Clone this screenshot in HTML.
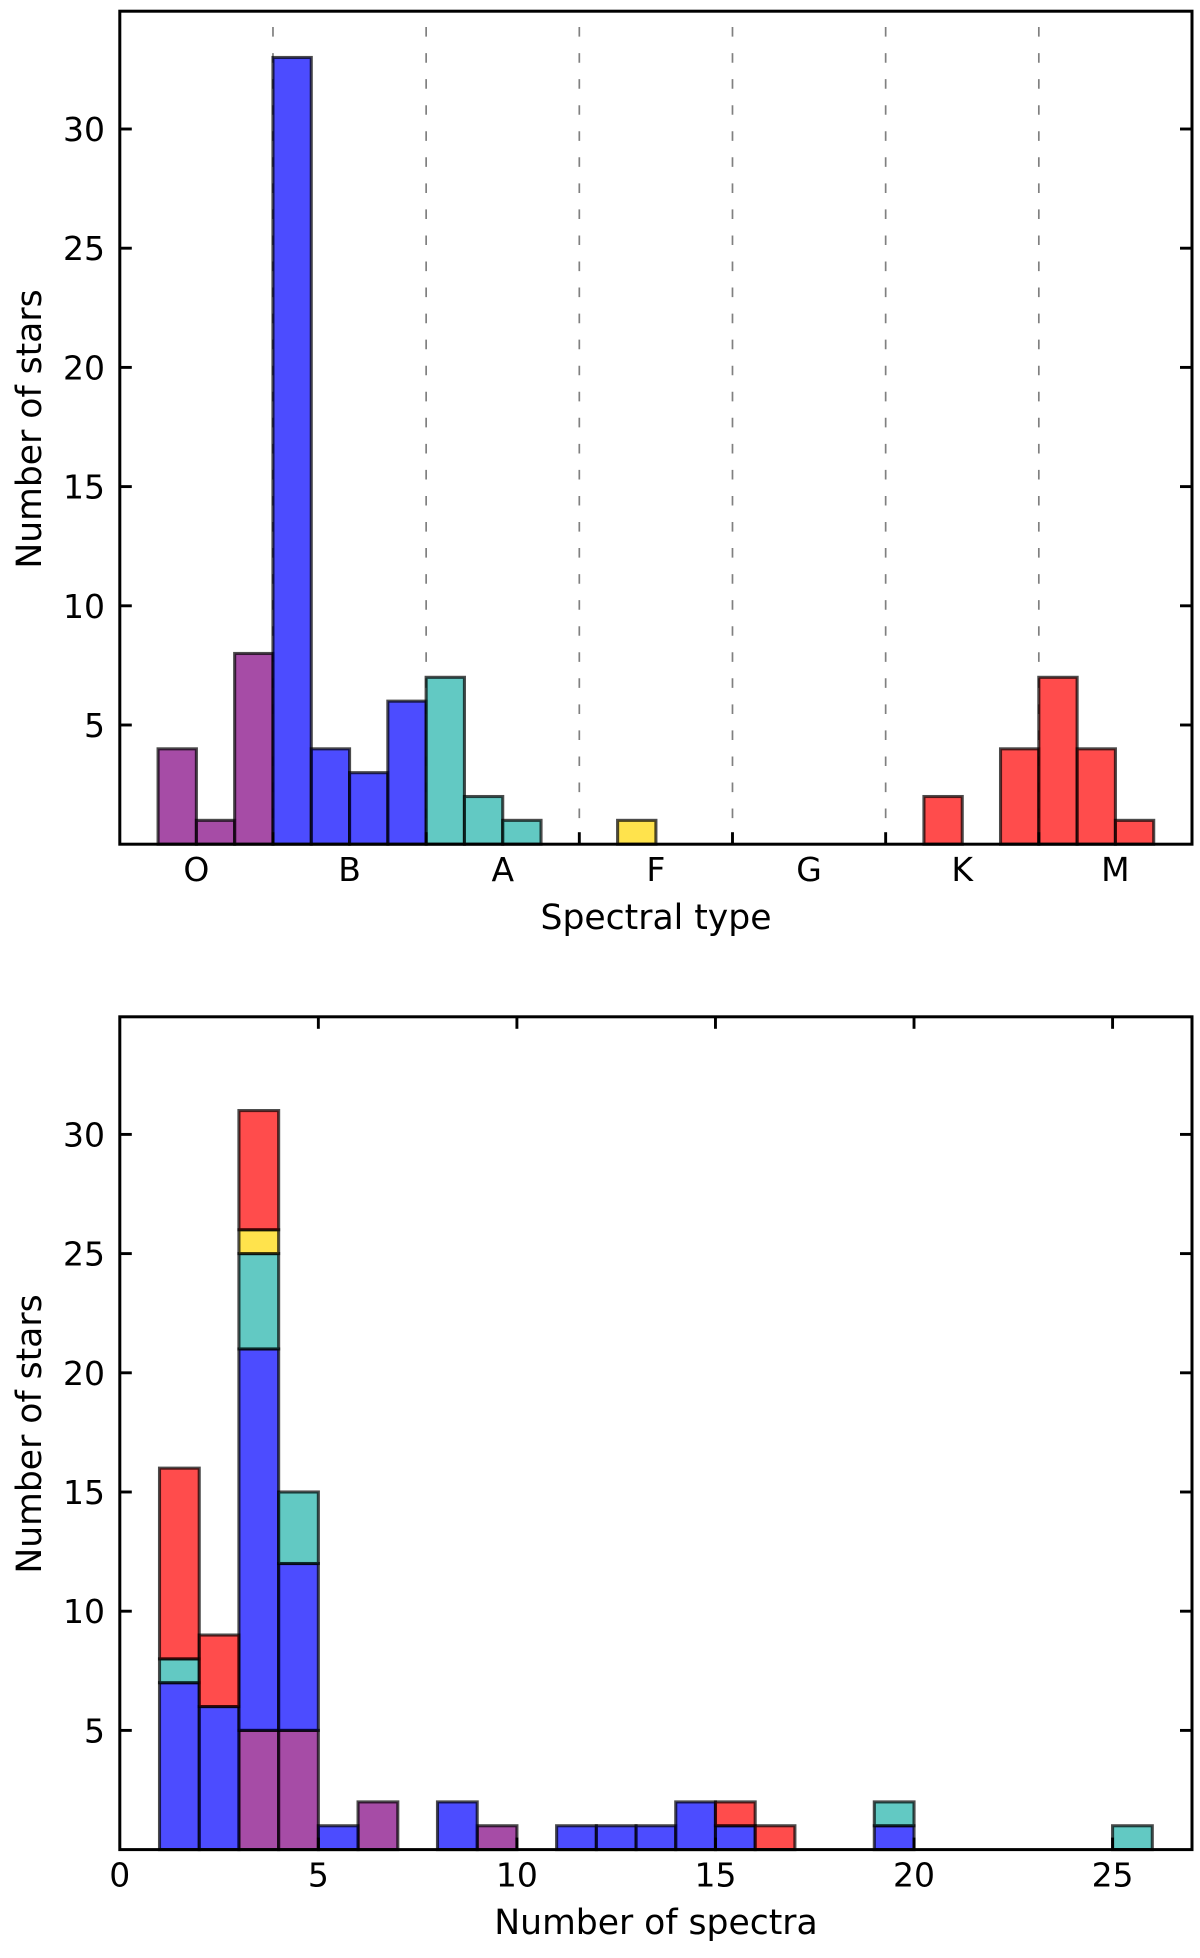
<!DOCTYPE html>
<html>
<head>
<meta charset="utf-8">
<title>Stellar sample histograms</title>
<style>
html,body{margin:0;padding:0;background:#fff;}
svg{display:block;filter:blur(0.35px);}
text{font-family:"DejaVu Sans","Liberation Sans",sans-serif;fill:#000;}
</style>
</head>
<body>
<svg id="fig" xmlns="http://www.w3.org/2000/svg" width="1200" height="1958" viewBox="0 0 1200 1958"></svg>
<script>
// ---- Top panel data: number of stars per spectral subtype bin ----
const spectralLabels = ['O','B','A','F','G','K','M'];
const spectralBoundaries = [4,8,12,16,20,24];
const topO = [0,4,1,8,0,0,0,0,0,0,0,0,0,0,0,0,0,0,0,0,0,0,0,0,0,0,0,0];
const topB = [0,0,0,0,33,4,3,6,0,0,0,0,0,0,0,0,0,0,0,0,0,0,0,0,0,0,0,0];
const topA = [0,0,0,0,0,0,0,0,7,2,1,0,0,0,0,0,0,0,0,0,0,0,0,0,0,0,0,0];
const topF = [0,0,0,0,0,0,0,0,0,0,0,0,0,1,0,0,0,0,0,0,0,0,0,0,0,0,0,0];
const topM = [0,0,0,0,0,0,0,0,0,0,0,0,0,0,0,0,0,0,0,0,0,2,0,4,7,4,1,0];

// ---- Bottom panel data: number of stars per number-of-spectra bin (stacked) ----
const spectraPurple = [0,0,0,5,5,0,2,0,0,1,0,0,0,0,0,0,0,0,0,0,0,0,0,0,0,0,0];
const spectraBlue   = [0,7,6,16,7,1,0,0,2,0,0,1,1,1,2,1,0,0,0,1,0,0,0,0,0,0,0];
const spectraTeal   = [0,1,0,4,3,0,0,0,0,0,0,0,0,0,0,0,0,0,0,1,0,0,0,0,0,1,0];
const spectraYellow = [0,0,0,1,0,0,0,0,0,0,0,0,0,0,0,0,0,0,0,0,0,0,0,0,0,0,0];
const spectraRed    = [0,8,3,5,0,0,0,0,0,0,0,0,0,0,0,1,1,0,0,0,0,0,0,0,0,0,0];

const yTickValues = [5,10,15,20,25,30];
const xTickValues = [0,5,10,15,20,25];
const vlineTopValue = 34.3;

const NS = 'http://www.w3.org/2000/svg';
const fig = document.getElementById('fig');
const LEFT = 119.8, RIGHT = 1192, UNIT = 23.84, TICK = 12;
const TOP_A = 11.2, BASE_A = 844.2, TOP_B = 1016.8, BASE_B = 1849.6;
const BIN_A = 28, BIN_B = 27;
const TICK_FONT = 33, LABEL_FONT = 34.6;
const PURPLE = 'rgb(128,0,128)', BLUE = 'rgb(0,0,255)', TEAL = 'rgb(32,178,170)', GOLD = 'rgb(255,215,0)', RED = 'rgb(255,0,0)';

function xA(v){ return LEFT + v * (RIGHT - LEFT) / BIN_A; }
function xB(v){ return LEFT + v * (RIGHT - LEFT) / BIN_B; }
function yA(v){ return BASE_A - v * UNIT; }
function yB(v){ return BASE_B - v * UNIT; }

function node(tag, attrs){
  const el = document.createElementNS(NS, tag);
  for (const k in attrs) el.setAttribute(k, attrs[k]);
  fig.appendChild(el);
  return el;
}
function bar(x0, x1, y0, y1, color, name){
  const el = node('rect', {x:x0, y:y1, width:x1-x0, height:y0-y1, fill:color, 'fill-opacity':0.7, stroke:'#000', 'stroke-opacity':0.7, 'stroke-width':3.1});
  
  
}
function line(x1, y1, x2, y2, name, extra){
  const el = node('line', Object.assign({x1:x1, y1:y1, x2:x2, y2:y2, stroke:'#000', 'stroke-width':2.9}, extra || {}));
  
  
}
function label(x, y, str, size, anchor, name, rotate){
  const attrs = {x:x, y:y, 'font-size':size, 'text-anchor':anchor};
  if (rotate) attrs.transform = 'rotate(-90 ' + x + ' ' + y + ')';
  const el = node('text', attrs);
  el.textContent = str;
  
  
}
function frame(top, base, name){
  const el = node('rect', {x:LEFT, y:top, width:RIGHT-LEFT, height:base-top, fill:'none', stroke:'#000', 'stroke-width':3});
  
  
}

// ---- Top panel ----
spectralBoundaries.forEach(function(b){
  line(xA(b), BASE_A, xA(b), yA(vlineTopValue), 'spectral-class-divider', {stroke:'#808080', 'stroke-width':1.7, 'stroke-dasharray':'9.6 16.45'});
});
[[topO,PURPLE,'O'],[topB,BLUE,'B'],[topA,TEAL,'A'],[topF,GOLD,'F'],[topM,RED,'KM']].forEach(function(s){
  s[0].forEach(function(v,i){
    if (v > 0) bar(xA(i), xA(i+1), yA(0), yA(v), s[1], 'bar-spectral-' + s[2] + '-bin-' + i);
  });
});
frame(TOP_A, BASE_A, 'top-plot-frame');
yTickValues.forEach(function(v){
  line(LEFT, yA(v), LEFT+TICK, yA(v), 'top-y-tick-left');
  line(RIGHT-TICK, yA(v), RIGHT, yA(v), 'top-y-tick-right');
  label(105, yA(v)+12, String(v), TICK_FONT, 'end', 'top-y-tick-label');
});
spectralBoundaries.forEach(function(b){
  line(xA(b), BASE_A-TICK, xA(b), BASE_A, 'top-x-tick');
});
spectralLabels.forEach(function(s,i){
  label(xA(2+4*i), 881, s, TICK_FONT, 'middle', 'spectral-class-label');
});
label(656, 929, 'Spectral type', LABEL_FONT, 'middle', 'top-x-axis-title');
label(41, 429, 'Number of stars', LABEL_FONT, 'middle', 'top-y-axis-title', true);

// ---- Bottom panel ----
const stacks = [[spectraPurple,PURPLE,'purple'],[spectraBlue,BLUE,'blue'],[spectraTeal,TEAL,'teal'],[spectraYellow,GOLD,'yellow'],[spectraRed,RED,'red']];
const cumulative = new Array(BIN_B).fill(0);
stacks.forEach(function(s){
  s[0].forEach(function(v,i){
    const from = cumulative[i], to = from + v;
    if (i > 0) bar(xB(i), xB(i+1), yB(from), yB(to), s[1], 'bar-spectra-' + s[2] + '-bin-' + i);
    cumulative[i] = to;
  });
});
frame(TOP_B, BASE_B, 'bottom-plot-frame');
yTickValues.forEach(function(v){
  line(LEFT, yB(v), LEFT+TICK, yB(v), 'bottom-y-tick-left');
  line(RIGHT-TICK, yB(v), RIGHT, yB(v), 'bottom-y-tick-right');
  label(105, yB(v)+12, String(v), TICK_FONT, 'end', 'bottom-y-tick-label');
});
xTickValues.forEach(function(v){
  if (v > 0) {
    line(xB(v), BASE_B-TICK, xB(v), BASE_B, 'bottom-x-tick');
    line(xB(v), TOP_B, xB(v), TOP_B+TICK, 'bottom-x-tick-top');
  }
  label(xB(v), 1886.5, String(v), TICK_FONT, 'middle', 'bottom-x-tick-label');
});
label(656, 1934, 'Number of spectra', LABEL_FONT, 'middle', 'bottom-x-axis-title');
label(41, 1434, 'Number of stars', LABEL_FONT, 'middle', 'bottom-y-axis-title', true);
</script>
</body>
</html>
